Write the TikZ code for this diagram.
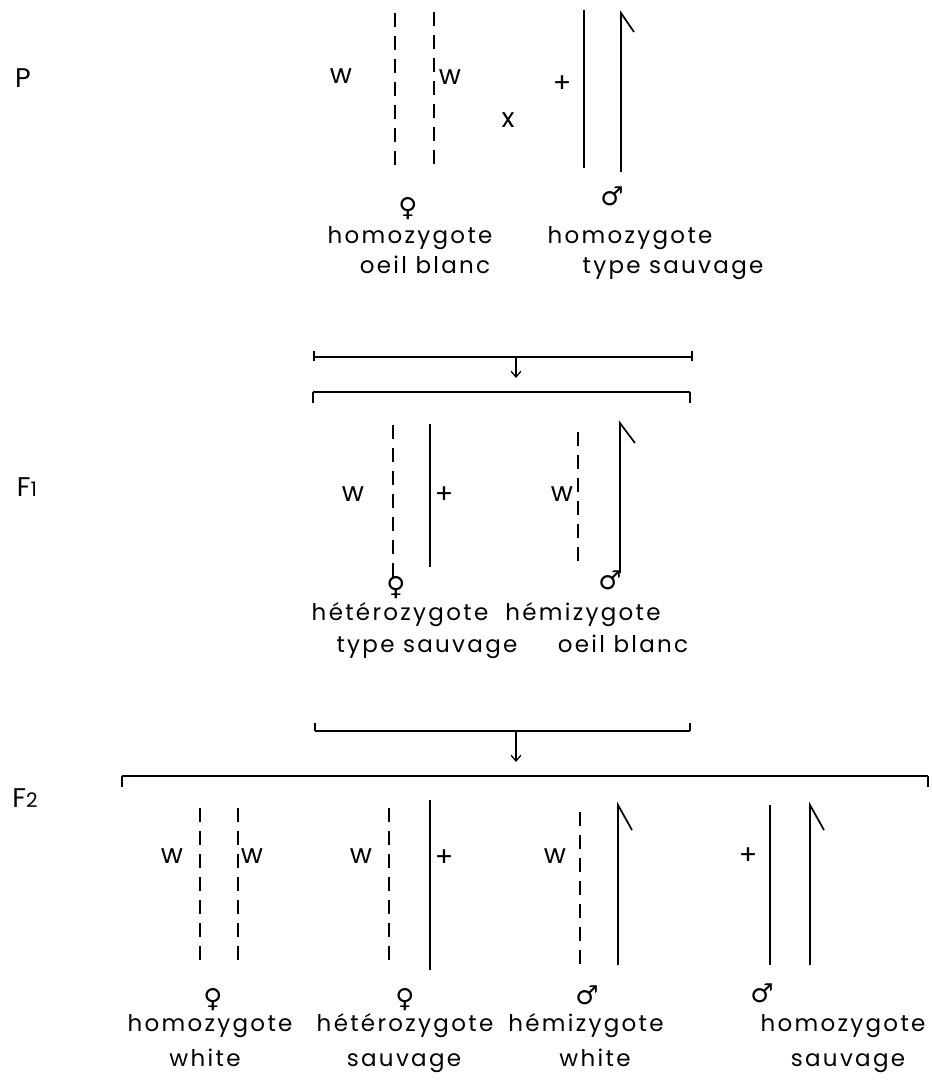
\documentclass[tikz,border=0pt]{standalone}
\usepackage{fontspec}
\setmainfont{Poppins}[LetterSpace=10]
\newfontfamily\symfont{DejaVu Sans}
\usetikzlibrary{arrows.meta}
\begin{document}
\begin{tikzpicture}[x=1pt,y=-1pt,
  chrom/.style={line width=1.7pt},
  dchrom/.style={line width=1.7pt, dash pattern=on 14pt off 9pt},
  lbl/.style={font=\fontsize{27}{30}\selectfont, inner sep=0pt},
  txt/.style={font=\fontsize{23}{26}\selectfont, inner sep=0pt, anchor=base},
  gen/.style={font=\fontsize{27}{30}\selectfont, inner sep=0pt},
  sub/.style={font=\fontsize{20}{22}\selectfont, inner sep=0pt},
  sex/.style={font=\symfont\fontsize{26}{28}\selectfont, inner sep=0pt},
  brk/.style={line width=1.7pt},
  arr/.style={line width=1.2pt,-{Straight Barb[length=6pt,width=10pt]}}
]
\useasboundingbox (0,0) rectangle (932,1080);
% generation labels
\node[gen] (gP) at (23,78) {P};
\node[gen] (gF1) at (27,487) {F{\fontsize{20}{22}\selectfont 1}};
\node[gen] (gF2) at (25,798) {F{\fontsize{20}{22}\selectfont 2}};
% ---------- P ----------
\draw[dchrom] (395,13) -- (395,170);
\draw[dchrom] (434,12) -- (434,170);
\node[lbl] (pw1) at (341,76) {w};
\node[lbl] (pw2) at (450,77) {w};
\node[lbl] (px) at (508,120) {x};
\node[lbl] (pplus) at (562,84) {+};
\draw[chrom] (584,10) -- (584,168);
\draw[chrom] (621,172) -- (621,13) -- (634,32);
\node[sex] (pf) at (408,209) {♀};
\node[sex] (pm) at (612,196) {♂};
\node[txt] (pt1a) at (410,243) {homozygote};
\node[txt] (pt1b) at (425,273) {oeil blanc};
\node[txt] (pt2a) at (630,243) {homozygote};
\node[txt] (pt2b) at (673,273) {type sauvage};
% ---------- P -> F1 ----------
\coordinate (b1l) at (314,357);
\coordinate (b1r) at (692,357);
\coordinate (b1m) at (516,357);
\draw[brk] (b1l) ++(0,-6) -- ++(0,10);
\draw[brk] (b1r) ++(0,-6) -- ++(0,10);
\draw[brk] (b1l) -- (b1r);
\coordinate (b2l) at (313,392);
\coordinate (b2r) at (690,392);
\coordinate (b2m) at (516,378);
\draw[brk] (b2l) -- ++(0,11);
\draw[brk] (b2r) -- ++(0,11);
\draw[brk] (b2l) -- (b2r);
\draw[arr] (b1m) -- (b2m);
% ---------- F1 ----------
\draw[dchrom] (393,425) -- (393,577);
\draw[chrom] (430,424) -- (430,567);
\node[lbl] (f1w1) at (353,494) {w};
\node[lbl] (f1plus) at (444,495) {+};
\draw[dchrom] (578,432) -- (578,570);
\node[lbl] (f1w2) at (562,494) {w};
\draw[chrom] (620,573) -- (620,423) -- (635,443);
\node[sex] (f1f) at (396,588) {♀};
\node[sex] (f1m) at (610,580) {♂};
\node[txt] (f1t1a) at (400,620) {hétérozygote};
\node[txt] (f1t1b) at (427,652) {type sauvage};
\node[txt] (f1t2a) at (583,620) {hémizygote};
\node[txt] (f1t2b) at (623,652) {oeil blanc};
% ---------- F1 -> F2 ----------
\coordinate (b3l) at (315,731);
\coordinate (b3r) at (690,731);
\coordinate (b3m) at (516,731);
\draw[brk] (b3l) -- ++(0,-8);
\draw[brk] (b3r) -- ++(0,-8);
\draw[brk] (b3l) -- (b3r);
\coordinate (b4l) at (122,776);
\coordinate (b4r) at (928,776);
\coordinate (b4m) at (516,762);
\draw[brk] (b4l) -- ++(0,11);
\draw[brk] (b4r) -- ++(0,11);
\draw[brk] (b4l) -- (b4r);
\draw[arr] (b3m) -- (b4m);
% ---------- F2 ----------
\draw[dchrom] (200,808) -- (200,965);
\draw[dchrom] (238,808) -- (238,966);
\node[lbl] (f2w1) at (172,856) {w};
\node[lbl] (f2w2) at (252,856) {w};
\draw[dchrom] (389,808) -- (389,965);
\draw[chrom] (430,800) -- (430,970);
\node[lbl] (f2w3) at (361,856) {w};
\node[lbl] (f2plus1) at (444,858) {+};
\draw[dchrom] (580,812) -- (580,965);
\draw[chrom] (618,965) -- (618,805) -- (632,830);
\node[lbl] (f2w4) at (555,856) {w};
\draw[chrom] (770,805) -- (770,965);
\draw[chrom] (810,965) -- (810,805) -- (824,830);
\node[lbl] (f2plus2) at (748,856) {+};
\node[sex] (f2s1) at (213,1000) {♀};
\node[sex] (f2s2) at (405,1000) {♀};
\node[sex] (f2s3) at (587,995) {♂};
\node[sex] (f2s4) at (762,993) {♂};
\node[txt] (f2t1a) at (210,1031) {homozygote};
\node[txt] (f2t1b) at (205,1066) {white};
\node[txt] (f2t2a) at (405,1031) {hétérozygote};
\node[txt] (f2t2b) at (404,1066) {sauvage};
\node[txt] (f2t3a) at (586,1031) {hémizygote};
\node[txt] (f2t3b) at (595,1066) {white};
\node[txt] (f2t4a) at (843,1031) {homozygote};
\node[txt] (f2t4b) at (848,1066) {sauvage};
\end{tikzpicture}
\end{document}
